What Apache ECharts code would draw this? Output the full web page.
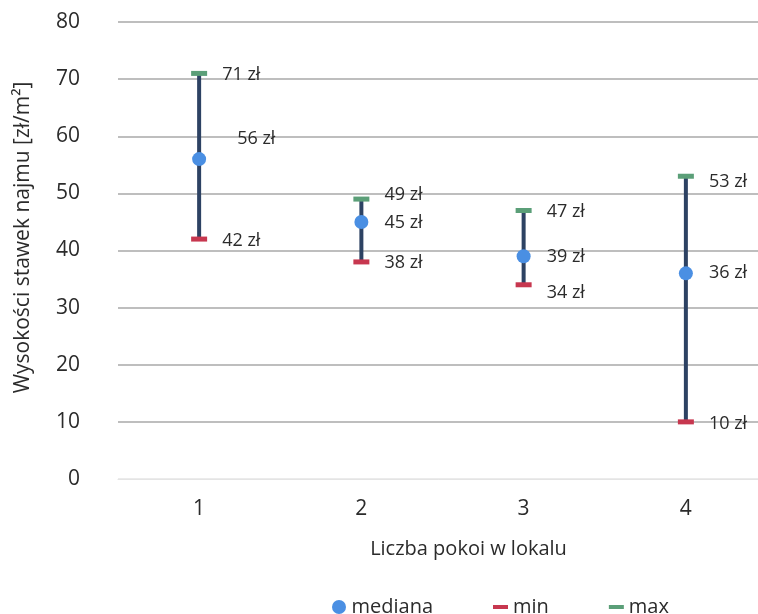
<!DOCTYPE html>
<html>
<head>
<meta charset="utf-8">
<script src="https://cdn.jsdelivr.net/npm/echarts@6/dist/echarts.min.js"></script>
<style>
  html, body { margin: 0; padding: 0; background: #ffffff; }
  #chart { width: 758px; height: 614px; }
</style>
</head>
<body>
<div id="chart"></div>
<script>
// Rent rates per m² by number of rooms
const rooms = ['1', '2', '3', '4'];
const medianRent = [56, 45, 39, 36];
const minRent = [42, 38, 34, 10];
const maxRent = [71, 49, 47, 53];

// Small nudges so neighbouring value labels do not collide
const maxLabelShift = [[0, 1], [0, -4], [0, 1], [0, 6]];
const medianLabelShift = [[15, -20], [0, 1], [0, 1], [0, 0]];
const minLabelShift = [[0, 2], [0, 1], [0, 8], [0, 2]];

const FONT = '"Open Sans", "DejaVu Sans", sans-serif';
const TEXT = '#2b2b2b';

const withShift = (values, shifts) =>
  values.map((v, i) => ({ value: v, label: { offset: shifts[i] } }));

const valueLabel = (distance) => ({
  show: true,
  position: 'right',
  distance: distance,
  formatter: (p) => p.value + ' zł',
  color: TEXT,
  fontFamily: FONT,
  fontSize: 18
});

const chart = echarts.init(document.getElementById('chart'), null, { renderer: 'canvas' });

chart.setOption({
  backgroundColor: '#ffffff',
  animation: false,
  // plot area runs a little past the right edge of the canvas
  grid: { left: 118, width: 649, top: 22, bottom: 135, containLabel: false, outerBoundsMode: 'none' },
  legend: {
    left: 327,
    top: 592,
    itemWidth: 15,
    itemHeight: 14,
    itemGap: 60,
    textStyle: { color: TEXT, fontFamily: FONT, fontSize: 20 },
    data: [
      { name: 'mediana', icon: 'circle' },
      { name: 'min', icon: 'path://M0,0M15,14M0,5h15v4h-15z' },
      { name: 'max', icon: 'path://M0,0M15,14M0,5h15v4h-15z' }
    ]
  },
  xAxis: {
    type: 'category',
    data: rooms,
    boundaryGap: true,
    axisLine: { show: true, lineStyle: { color: '#e4e4e4', width: 1 } },
    axisTick: { show: false },
    axisLabel: { margin: 20, color: TEXT, fontFamily: FONT, fontSize: 21 },
    name: 'Liczba pokoi w lokalu',
    nameLocation: 'middle',
    nameGap: 60,
    nameTextStyle: { color: TEXT, fontFamily: FONT, fontSize: 20, padding: [0, 0, 0, 52] }
  },
  yAxis: {
    type: 'value',
    min: 0,
    max: 80,
    interval: 10,
    axisLine: { show: false },
    axisTick: { show: false },
    axisLabel: { margin: 38, color: TEXT, fontFamily: FONT, fontSize: 21 },
    splitLine: {
      show: true,
      lineStyle: {
        color: ['#e4e4e4', '#a9a9a9', '#a9a9a9', '#a9a9a9', '#a9a9a9', '#a9a9a9', '#a9a9a9', '#a9a9a9', '#a9a9a9'],
        width: 1.5
      }
    },
    name: 'Wysokości stawek najmu [zł/m²]',
    nameLocation: 'middle',
    nameGap: 84,
    nameRotate: 90,
    nameTextStyle: { color: TEXT, fontFamily: FONT, fontSize: 21, padding: [0, 0, 0, 26] }
  },
  series: [
    {
      name: 'zakres',
      type: 'custom',
      z: 1,
      data: rooms.map((r, i) => [i, minRent[i], maxRent[i]]),
      encode: { x: 0, y: [1, 2] },
      renderItem: function (params, api) {
        const lo = api.coord([api.value(0), api.value(1)]);
        const hi = api.coord([api.value(0), api.value(2)]);
        return {
          type: 'line',
          shape: { x1: lo[0], y1: lo[1], x2: hi[0], y2: hi[1] },
          style: { stroke: '#2d4263', lineWidth: 4 }
        };
      }
    },
    {
      name: 'min',
      type: 'scatter',
      z: 2,
      symbol: 'rect',
      symbolSize: [16, 5],
      itemStyle: { color: '#c7374f', opacity: 1 },
      label: valueLabel(15),
      data: withShift(minRent, minLabelShift)
    },
    {
      name: 'max',
      type: 'scatter',
      z: 2,
      symbol: 'rect',
      symbolSize: [16, 5],
      itemStyle: { color: '#5b9f78', opacity: 1 },
      label: valueLabel(15),
      data: withShift(maxRent, maxLabelShift)
    },
    {
      name: 'mediana',
      type: 'scatter',
      z: 3,
      symbol: 'circle',
      symbolSize: 14,
      itemStyle: { color: '#4a8fe3', opacity: 1 },
      label: valueLabel(16),
      data: withShift(medianRent, medianLabelShift)
    }
  ]
});
</script>
</body>
</html>
